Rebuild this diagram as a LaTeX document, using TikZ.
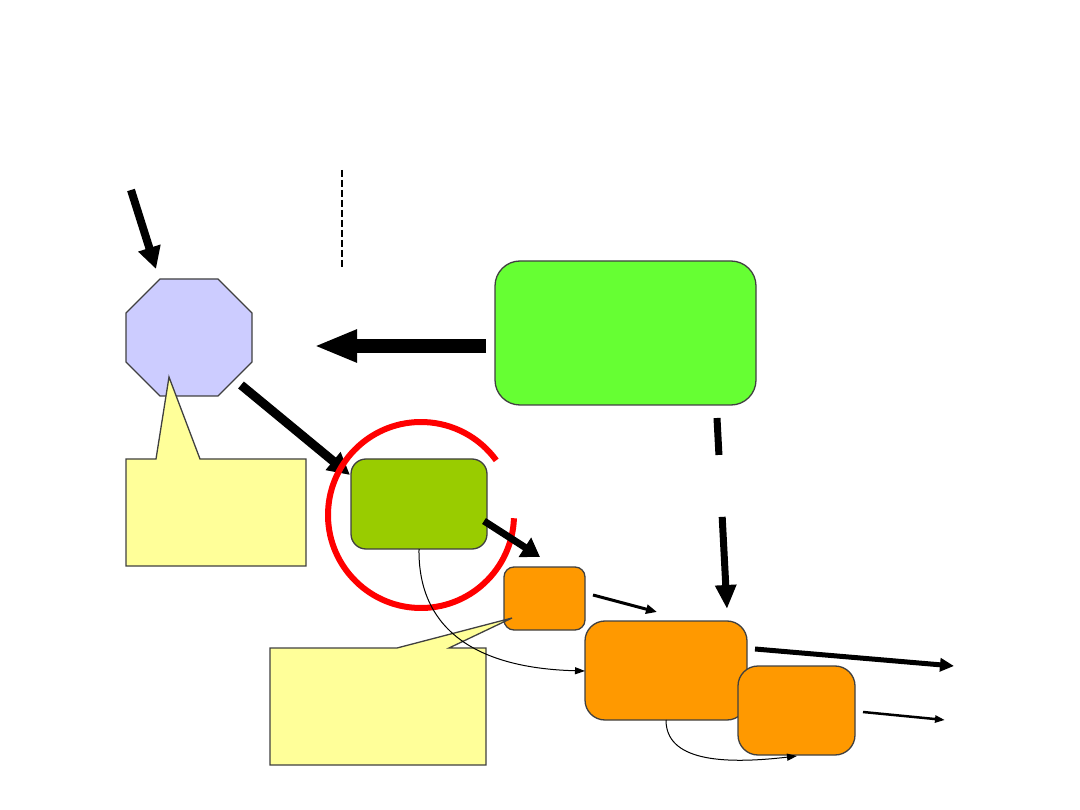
\documentclass[tikz,border=0pt]{standalone}
\usetikzlibrary{arrows.meta}
\definecolor{lav}{HTML}{CCCCFF}
\definecolor{lime}{HTML}{66FF33}
\definecolor{olive}{HTML}{99CC00}
\definecolor{orng}{HTML}{FF9900}
\definecolor{yel}{HTML}{FFFF99}
\definecolor{edge}{HTML}{404040}
\tikzset{
  shapebox/.style={draw=edge, line width=1.3pt, inner sep=0pt, outer sep=0pt},
  rbox/.style={shapebox, rounded corners=#1},
  bigarrow/.style={line width=#1, -{Triangle[length=22pt,width=22pt]}},
  thinarrow/.style={line width=1pt, -{Triangle[length=10pt,width=7pt]}}
}
\begin{document}
\begin{tikzpicture}[x=1pt,y=-1pt]
\useasboundingbox (0,0) rectangle (1080,810);

% octagon
\draw[shapebox, fill=lav] (160,279) -- (218,279) -- (252,313) -- (252,362) -- (218,396) -- (160,396) -- (126,362) -- (126,313) -- cycle;
\coordinate (oct) at (189,337);

% callout 1
\draw[shapebox, fill=yel] (126,459) -- (156,459) -- (169,377) -- (200,459) -- (306,459) -- (306,566) -- (126,566) -- cycle;

% dashed vertical line
\coordinate (dl1) at (342,170);
\coordinate (dl2) at (342,270);
\draw[line width=1.2pt, dash pattern=on 7pt off 3pt] (dl1) -- (dl2);

% green box
\node[rbox=25pt, fill=lime, minimum width=261pt, minimum height=144pt] (gbox) at (625.5,333) {};

% olive box
\node[rbox=15pt, fill=olive, minimum width=136pt, minimum height=90pt] (obox) at (419,504) {};

% arrows
\coordinate (a1s) at (131,190);
\coordinate (a1e) at (156,269);
\draw[bigarrow=8pt] (a1s) -- (a1e);

\coordinate (a2s) at (486,346);
\coordinate (a2e) at (314,346);
\draw[line width=14pt, -{Triangle[length=43pt,width=30pt]}] (a2s) -- (a2e);

\coordinate (a3s) at (241,385);
\coordinate (a3e) at (350,475);
\draw[bigarrow=9pt] (a3s) -- (a3e);

% red circle
\draw[red, line width=6pt] (421,515) ++(-2:93pt) arc[start angle=-2, end angle=-324, radius=93pt];

\coordinate (a4s) at (484,521);
\coordinate (a4e) at (540,557);
\draw[line width=7pt, -{Triangle[length=18pt,width=22pt]}] (a4s) -- (a4e);

% orange boxes
\node[rbox=10pt, fill=orng, minimum width=81pt, minimum height=63pt] (s1) at (544.5,598.5) {};
\node[rbox=20pt, fill=orng, minimum width=162pt, minimum height=99pt] (s2) at (666,670.5) {};
\node[rbox=20pt, fill=orng, minimum width=117pt, minimum height=89pt] (s3) at (796.5,710.5) {};

\coordinate (a5s) at (593,595);
\coordinate (a5e) at (657,612);
\draw[line width=3pt, -{Triangle[length=11pt,width=9pt]}] (a5s) -- (a5e);

\coordinate (a6s) at (717,418);
\coordinate (a6e) at (727,609);
\draw[line width=7pt, dash pattern=on 37pt off 62pt on 300pt off 1pt, -{Triangle[length=24pt,width=20pt]}] (a6s) -- (a6e);

\coordinate (a7s) at (755,649);
\coordinate (a7e) at (954,666);
\draw[line width=5pt, -{Triangle[length=14pt,width=13pt]}] (a7s) -- (a7e);

\coordinate (a8s) at (863,712);
\coordinate (a8e) at (945,720);
\draw[line width=2.5pt, -{Triangle[length=10pt,width=7pt]}] (a8s) -- (a8e);

% callout 2
\draw[shapebox, fill=yel] (270,648) -- (397,648) -- (512,618) -- (449,648) -- (486,648) -- (486,765) -- (270,765) -- cycle;

% thin curves
\draw[thinarrow] (obox.south) .. controls (418,625) and (470,668) .. (s2.west |- 0,671);
\draw[thinarrow] (s2.south) .. controls (666,760) and (720,765) .. (797,756);
\end{tikzpicture}
\end{document}
